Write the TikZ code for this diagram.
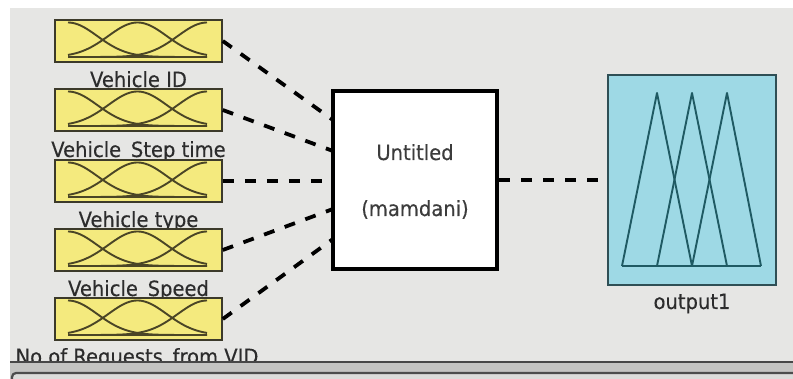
\documentclass[tikz,border=0pt]{standalone}
\usepackage{fontspec}
\setmainfont{DejaVu Sans}[FakeStretch=0.93, FakeBold=0.3]
\definecolor{bggray}{HTML}{E6E6E4}
\definecolor{mfyellow}{HTML}{F4EA7E}
\definecolor{yedge}{HTML}{3C3A2A}
\definecolor{mfcurve}{HTML}{4A4526}
\definecolor{outfill}{HTML}{9ED9E5}
\definecolor{outedge}{HTML}{2F4F55}
\definecolor{tricol}{HTML}{1F5A63}
\definecolor{txt}{HTML}{2C2C2C}
\definecolor{ctxt}{HTML}{3C3C3C}
\definecolor{barmid}{HTML}{C4C4C2}
\definecolor{barlow}{HTML}{DCDCDA}
\begin{document}
\begin{tikzpicture}[x=1pt,y=-1pt,
  inbox/.style={draw=yedge, fill=mfyellow, line width=1.6pt, minimum width=167pt, minimum height=42pt, inner sep=0pt},
  lbl/.style={font=\fontsize{21}{22}\selectfont, text=txt, anchor=base, inner sep=0pt},
  conn/.style={line width=3.8pt, dash pattern=on 11pt off 11pt, black},
  fisbox/.style={draw=black, line width=4pt, fill=white, minimum width=164pt, minimum height=178pt, inner sep=0pt},
  outbox/.style={draw=outedge, fill=outfill, line width=1.4pt, minimum width=168pt, minimum height=210pt, inner sep=0pt},
  mf/.style={draw=mfcurve, line width=1.9pt},
  tri/.style={draw=tricol, line width=1.9pt, line join=round}]
\useasboundingbox (0,0) rectangle (793,379);
\fill[white] (0,0) rectangle (793,379);
\fill[bggray] (10,8) rectangle (793,379);

% labels (drawn first, overlapped by boxes)
\node[lbl] (l1) at (138.5,87) {Vehicle ID};
\node[lbl] (l2) at (138.5,157) {Vehicle\_Step time};
\node[lbl] (l3) at (138.5,227) {Vehicle type};
\node[lbl] (l4) at (138.5,296) {Vehicle\_Speed};
\node[lbl] (l5) at (137,364) {No of Requests\_from VID};

% input boxes with membership functions
\foreach \t [count=\i] in {20,89,160,229,298} {
  \pgfmathsetmacro\cy{\t+21}
  \pgfmathsetmacro\bb{\t+37}
  \node[inbox] (in\i) at (138.5,\cy) {};
  \draw[mf] (68,\bb) -- (207,\bb);
  \foreach \m in {68,137.5,207} {
    \draw[mf] plot[domain=68:207,samples=60,smooth] (\x,{\bb-34.5*exp(-0.5*((\x-\m)/29.3)^2)});
  }
}

% central FIS box
\node[fisbox] (fis) at (415,180) {};
\node[lbl, text=ctxt] (untitled) at (415,160) {Untitled};
\node[lbl, text=ctxt] (mamdani) at (415,216) {(mamdani)};

% output box
\node[outbox] (out) at (692,180) {};
\draw[tri] (622,266) -- (657,93) -- (692,266);
\draw[tri] (657,266) -- (692,93) -- (727,266);
\draw[tri] (692,266) -- (727,93) -- (761,266);
\draw[tri] (622,266) -- (761,266);
\node[lbl] (o1) at (692,309) {output1};

% connectors
\coordinate (t1) at (333,120);
\coordinate (t2) at (333,151);
\coordinate (t3) at (333,181);
\coordinate (t4) at (333,209);
\coordinate (t5) at (333,239);
\foreach \i in {1,...,5} {
  \draw[conn] (in\i.east) -- (t\i);
}
\draw[conn] (fis.east) -- (out.west);

% bottom bar
\fill[barmid] (10,363) rectangle (793,379);
\draw[line width=2.4pt, color=black!72] (10,362) -- (793,362);
\fill[barlow, rounded corners=4pt] (12,373) -- (12,385) -- (800,385) -- (800,373) -- cycle;
\draw[line width=2.2pt, color=black!70, rounded corners=4pt] (12,382) -- (12,373) -- (800,373);
\end{tikzpicture}
\end{document}
